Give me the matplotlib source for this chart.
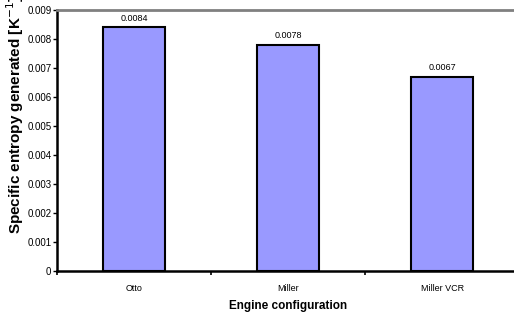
import matplotlib
matplotlib.use("Agg")
import matplotlib.pyplot as plt
from matplotlib.ticker import FuncFormatter

configs = ["Otto", "Miller", "Miller VCR"]
entropy = [0.0084, 0.0078, 0.0067]
value_labels = ["0.0084", "0.0078", "0.0067"]

plt.rcParams["font.family"] = ["Liberation Sans", "DejaVu Sans"]

fig = plt.figure(figsize=(5.14, 3.13), dpi=100)
ax = fig.add_axes([0.111, 0.134, 0.899, 0.834])

x = range(len(configs))
bars = ax.bar(x, entropy, width=0.4, color="#9999FF", edgecolor="black",
              linewidth=1.5, zorder=3)
for b, lab in zip(bars, value_labels):
    ax.text(b.get_x() + b.get_width() / 2, b.get_height() + 0.00015, lab,
            ha="center", va="bottom", fontsize=6.5)

ax.set_xlim(-0.5, 2.5)
ax.set_ylim(0, 0.009)
ax.set_yticks([i * 0.001 for i in range(10)])
ax.yaxis.set_major_formatter(FuncFormatter(lambda v, p: "0" if v == 0 else f"{v:.3f}"))
# category boundaries carry the tick marks, names sit between them
ax.set_xticks([-0.5, 0.5, 1.5, 2.5])
ax.set_xticklabels([])
ax.set_xticks(list(x), minor=True)
ax.set_xticklabels(configs, minor=True, fontsize=6.5)
ax.tick_params(axis="x", which="minor", length=0, pad=9)
ax.tick_params(axis="x", which="major", length=3, width=1.2, direction="out")
ax.tick_params(axis="y", length=3, width=1, direction="out", labelsize=7, pad=1)

ax.spines["right"].set_visible(False)
ax.spines["top"].set_color("#808080")
ax.spines["top"].set_linewidth(2)
ax.spines["left"].set_linewidth(1.8)
ax.spines["bottom"].set_linewidth(1.8)

ax.set_xlabel("Engine configuration", fontsize=8.5, fontweight="bold", labelpad=5)
ax.set_ylabel("Specific entropy generated [K$^{-1}$]", fontsize=11, fontweight="bold")
ax.yaxis.set_label_coords(-0.067, 0.6)

fig.savefig("out.png", dpi=100)
